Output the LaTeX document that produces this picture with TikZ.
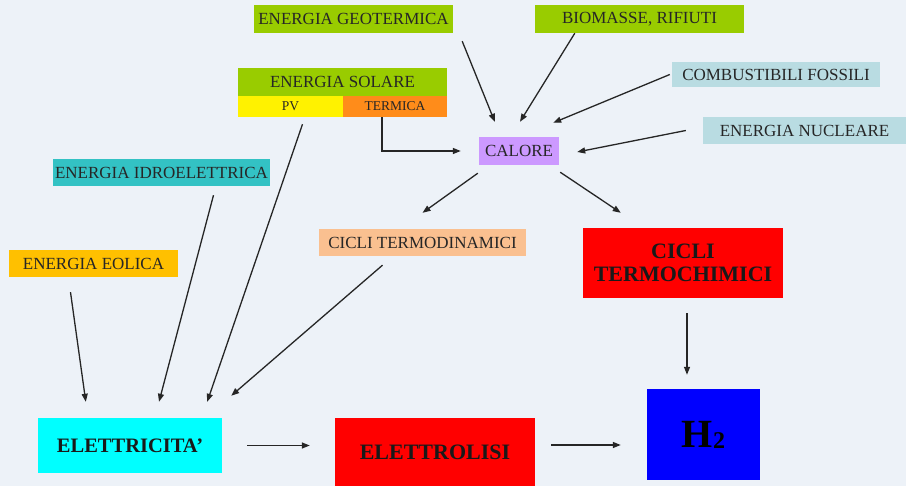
\documentclass[tikz,border=0pt]{standalone}
\usepackage{fontspec}
\setmainfont{Liberation Serif}
\usetikzlibrary{arrows.meta}
\definecolor{bg_blue}{HTML}{EDF2F8}
\definecolor{leaf_green}{HTML}{99CC00}
\definecolor{sun_orange}{HTML}{FF8C1A}
\definecolor{hydro_teal}{HTML}{33C2C4}
\definecolor{fossil_grey}{HTML}{B9DCE2}
\definecolor{heat_lilac}{HTML}{CC99FF}
\definecolor{cycle_peach}{HTML}{FAC090}
\definecolor{wind_gold}{HTML}{FFC000}
\definecolor{power_cyan}{HTML}{00FFFF}
\definecolor{box_red}{HTML}{FF0000}
\definecolor{box_blue}{HTML}{0000FF}
\tikzset{
  lbl/.style={inner sep=0pt, text=black!85, font=\fontsize{17}{19}\selectfont},
  bigbox/.style={inner sep=0pt, text=black!90, align=center, font=\fontsize{22}{23}\selectfont\bfseries},
  arr/.style={-{Triangle[length=8pt,width=6pt]}, line width=1.3pt, black!85}
}

\begin{document}
\begin{tikzpicture}[x=1pt,y=-1pt]
  \fill[bg_blue] (0,0) rectangle (906,486);
  \useasboundingbox (0,0) rectangle (906,486);

  \node[lbl, fill=leaf_green, minimum width=199, minimum height=28] (geo) at (353.5,19) {ENERGIA GEOTERMICA};
  \node[lbl, fill=leaf_green, minimum width=209, minimum height=28] (bio) at (639.5,19) {BIOMASSE, RIFIUTI};
  \node[lbl, fill=leaf_green, minimum width=209, minimum height=28] (solare) at (342.5,82) {ENERGIA SOLARE};
  \node[lbl, fill=yellow, minimum width=105, minimum height=21, font=\fontsize{13.5}{14}\selectfont] (pv) at (290.5,106.5) {PV};
  \node[lbl, fill=sun_orange, minimum width=104, minimum height=21, font=\fontsize{13.5}{14}\selectfont] (termica) at (395,106.5) {TERMICA};
  \node[lbl, fill=hydro_teal, minimum width=217, minimum height=27] (idro) at (161.5,172.5) {ENERGIA IDROELETTRICA};
  \node[lbl, fill=fossil_grey, minimum width=208, minimum height=25] (comb) at (776,74.5) {COMBUSTIBILI FOSSILI};
  \node[lbl, fill=fossil_grey, minimum width=203, minimum height=27] (nucl) at (804.5,130.5) {ENERGIA NUCLEARE};
  \node[lbl, fill=heat_lilac, minimum width=80, minimum height=28] (calore) at (519,151) {CALORE};
  \node[lbl, fill=cycle_peach, minimum width=207, minimum height=27] (termod) at (422.5,242.5) {CICLI TERMODINAMICI};
  \node[bigbox, fill=box_red, minimum width=200, minimum height=70] (termoch) at (683,263) {CICLI\\TERMOCHIMICI};
  \node[lbl, fill=wind_gold, minimum width=169, minimum height=27] (eolica) at (93.5,263.5) {ENERGIA EOLICA};
  \node[bigbox, fill=power_cyan, minimum width=184, minimum height=55, font=\fontsize{20.5}{22}\selectfont\bfseries] (elettr) at (130,445.5) {ELETTRICITA'};
  \node[bigbox, fill=box_red, minimum width=200, minimum height=68] (elettrolisi) at (435,452) {ELETTROLISI};
  \node[bigbox, fill=box_blue, minimum width=113, minimum height=91, text=black] (h2) at (703.5,434.5)
    {\fontsize{40}{40}\selectfont H\raisebox{-1pt}{\fontsize{24}{24}\selectfont 2}};

  \draw[arr] ([shift={(9,8)}]geo.south east) -- ([shift={(16,-15)}]calore.north west);
  \draw[arr] ([xshift=40pt]bio.south west) -- ([shift={(1,-15)}]calore.north);
  \draw[arr] ([xshift=-2pt]comb.west) -- ([shift={(-6,-14)}]calore.north east);
  \draw[arr] ([xshift=-17pt]nucl.west) -- ([shift={(18,1)}]calore.east);
  \draw[arr] ([xshift=-13pt]termica.south) |- ([xshift=-18pt]calore.west);
  \draw[arr] ([shift={(-1,8)}]calore.south west) -- ([shift={(0,-16)}]termod.north);
  \draw[arr] ([shift={(1,7)}]calore.south east) -- ([shift={(38,-15)}]termoch.north west);
  \draw[arr] ([shift={(12,7)}]pv.south) -- ([shift={(-15,-16)}]elettr.north east);
  \draw[arr] ([shift={(52,9)}]idro.south) -- ([shift={(29,-16)}]elettr.north);
  \draw[arr] ([shift={(-23,15)}]eolica.south) -- ([shift={(48,-16)}]elettr.north west);
  \draw[arr] ([shift={(-40,9)}]termod.south) -- ([shift={(9,-22)}]elettr.north east);
  \draw[arr] ([xshift=25pt]elettr.east) -- ([shift={(-25,-6.5)}]elettrolisi.west);
  \draw[arr] ([shift={(16,-7)}]elettrolisi.east) -- ([shift={(-26,10.5)}]h2.west);
  \draw[arr] ([shift={(4,15)}]termoch.south) -- ([shift={(-16.5,-14)}]h2.north);
\end{tikzpicture}
\end{document}
